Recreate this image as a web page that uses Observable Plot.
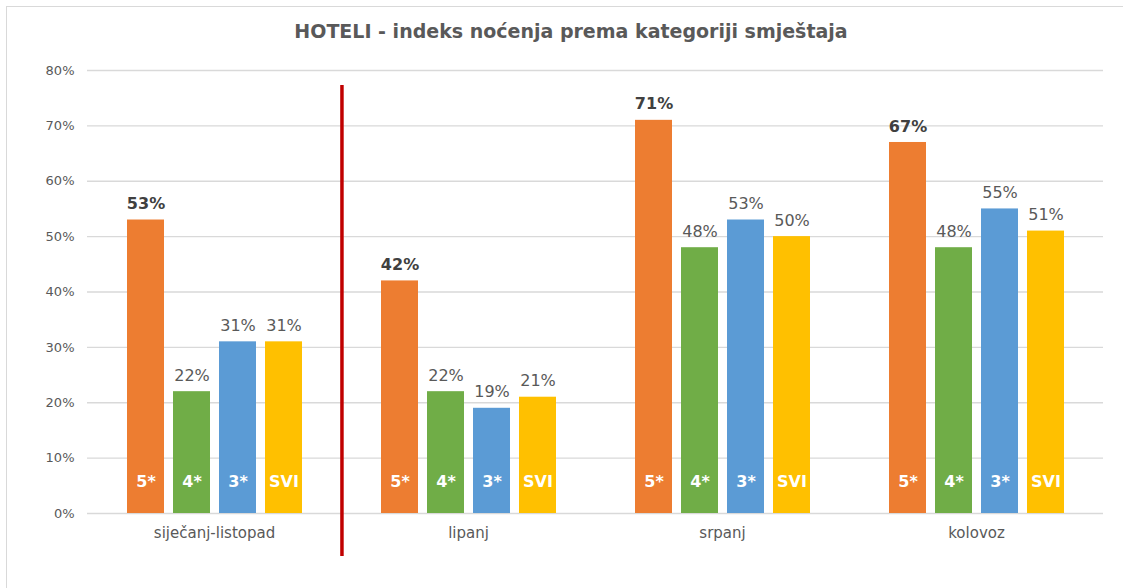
<!DOCTYPE html>
<html><head><meta charset="utf-8">
<script src="https://cdn.jsdelivr.net/npm/d3@7"></script>
<script src="https://cdn.jsdelivr.net/npm/@observablehq/plot@0.6"></script>
<style>
body{margin:0;background:#fff;font-family:"DejaVu Sans",Verdana,sans-serif;overflow:hidden;}
#frame{position:absolute;left:6px;top:6px;width:1140px;height:610px;border:1px solid #d9d9d9;box-sizing:border-box;}
#title{position:absolute;left:0;width:1142px;top:19px;text-align:center;font-weight:bold;font-size:19px;line-height:24px;color:#595959;}
#chart{position:absolute;left:0;top:50px;}
</style></head><body>
<div id="frame"></div>
<div id="title">HOTELI - indeks noćenja prema kategoriji smještaja</div>
<div id="chart"></div>
<script>
const periods = ["siječanj-listopad", "lipanj", "srpanj", "kolovoz"];
const categories = ["5*", "4*", "3*", "SVI"];
const colors = ["#ED7D31", "#70AD47", "#5B9BD5", "#FFC000"];
const values5 = [0.53, 0.42, 0.71, 0.67];
const values4 = [0.22, 0.22, 0.48, 0.48];
const values3 = [0.31, 0.19, 0.53, 0.55];
const valuesSvi = [0.31, 0.21, 0.50, 0.51];
const yTicks = [0, 0.1, 0.2, 0.3, 0.4, 0.5, 0.6, 0.7, 0.8];
const separatorAfter = ["siječanj-listopad"];

const series = [values5, values4, values3, valuesSvi];
const data = periods.flatMap((p, i) => categories.map((c, j) => ({period: p, cat: c, value: series[j][i]})));
const pct = d3.format(".0%");

const W = 1123, H = 538, ML = 86, MR = 19, MT = 20, MB = 75;
const PI = 0.205, PO = 0.857;
const facetW = (W - ML - MR) / periods.length;
const n = categories.length;
const step = facetW / (n - PI + 2 * PO);
const bw = step * (1 - PI);
// offset from the centre of the last bar of a facet to the facet's right edge
const lastCenter = PO * step + (n - 1) * step + bw / 2;
const sepDx = facetW - lastCenter;

const chart = Plot.plot({
  width: W, height: H,
  marginTop: MT, marginBottom: MB, marginLeft: ML, marginRight: MR,
  style: {fontFamily: "'DejaVu Sans', Verdana, sans-serif", fontSize: "13px", color: "#595959", background: "transparent", overflow: "visible"},
  fx: {domain: periods, padding: 0, label: null, axis: null},
  x: {domain: categories, paddingInner: PI, paddingOuter: PO, axis: null},
  y: {domain: [0, 0.8], label: null, axis: null},
  color: {domain: categories, range: colors},
  marks: [
    Plot.gridY(yTicks, {stroke: "#d9d9d9", strokeOpacity: 1, strokeWidth: 1.3}),
    Plot.axisY(yTicks, {tickFormat: pct, tickSize: 0, tickPadding: 13, fontSize: 13, fill: "#595959", label: null}),
    Plot.axisFx({anchor: "bottom", tickSize: 0, tickPadding: 14, fontSize: 15, fill: "#595959", label: null}),
    Plot.barY(data, {fx: "period", x: "cat", y: "value", fill: "cat"}),
    Plot.text(data.filter(d => d.cat === "5*"), {fx: "period", x: "cat", y: "value", text: d => pct(d.value), dy: -16, fontSize: 16, fontWeight: "bold", fill: "#404040"}),
    Plot.text(data.filter(d => d.cat !== "5*"), {fx: "period", x: "cat", y: "value", text: d => pct(d.value), dy: -16, fontSize: 16, fill: "#595959"}),
    Plot.text(data, {fx: "period", x: "cat", y: () => 0, text: "cat", dy: -32, fontSize: 16, fontWeight: "bold", fill: "white"}),
    Plot.ruleX(separatorAfter.map(p => ({period: p, cat: categories[n - 1]})), {fx: "period", x: "cat", dx: sepDx, stroke: "#C00000", strokeWidth: 3.5, insetTop: 15, insetBottom: -43})
  ]
});
document.getElementById("chart").appendChild(chart);
</script>
</body></html>
